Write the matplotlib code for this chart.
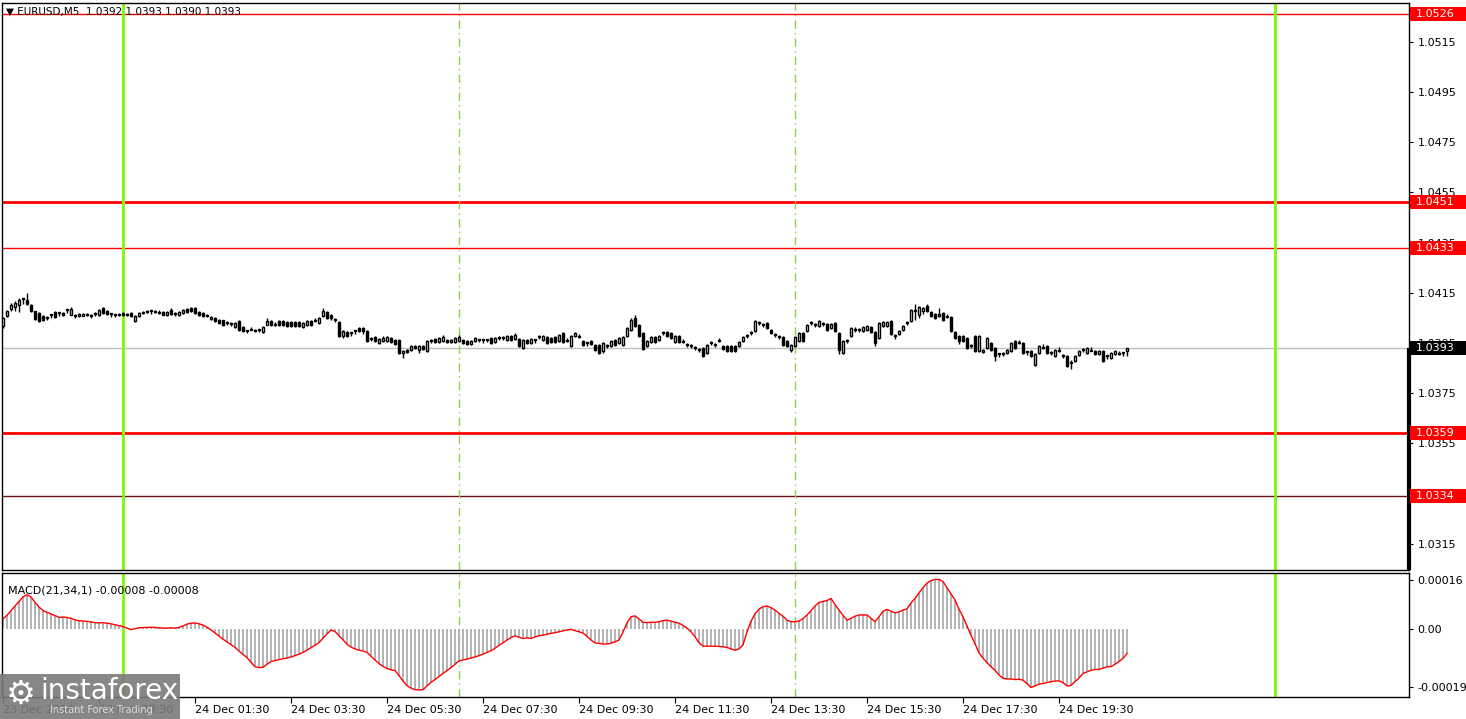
import matplotlib
matplotlib.use('Agg')
import matplotlib.pyplot as plt
import matplotlib.transforms as mtransforms
from matplotlib.patches import Rectangle
import numpy as np

# EURUSD M5, 23 Dec 21:30 -> 24 Dec 20:55, prices in pips relative to BASE
BASE = 1.0393

opens = [
    8.6, 12.6, 15.7, 16.2, 17.3, 19.5, 19.3, 17.3, 14.6, 13.9,
    12.6, 12.0, 13.0, 14.3, 13.9, 14.0, 15.3, 13.3, 12.6, 12.6,
    12.9, 13.5, 12.6, 13.5, 13.3, 15.9, 14.9, 13.5, 13.0, 13.3,
    13.9, 13.5, 13.9, 10.6, 12.6, 13.9, 14.8, 14.6, 14.9, 13.9,
    14.3, 13.0, 15.3, 13.5, 13.0, 13.9, 15.7, 15.9, 15.9, 14.3,
    13.9, 12.6, 11.6, 12.0, 11.3, 11.0, 10.0, 9.6, 8.2, 10.9,
    8.2, 6.9, 7.3, 7.3, 7.3, 6.4, 9.3, 10.6, 9.0, 10.6,
    10.6, 10.2, 10.2, 10.2, 10.2, 8.4, 9.3, 10.6, 10.6, 10.0,
    12.6, 14.2, 13.3, 11.0, 10.2, 4.6, 6.4, 6.0, 6.6, 8.0,
    8.0, 6.6, 3.6, 4.4, 2.0, 2.7, 2.7, 4.0, 3.3, 3.0,
    -2.0, -0.7, -0.9, 0.9, -0.7, 0.9, -1.3, 2.7, 3.6, 2.3,
    2.7, 3.3, 2.3, 2.3, 2.7, 3.0, 2.7, 1.7, 2.7, 3.3,
    3.0, 3.3, 4.0, 2.3, 4.0, 4.0, 3.0, 4.6, 3.6, 3.6,
    0.0, 3.3, 2.0, 3.0, 4.4, 3.0, 4.4, 4.0, 4.4, 2.7,
    6.0, 2.7, 0.7, 4.6, 4.4, 2.7, 2.0, 2.7, 1.3, 1.3,
    -1.3, 0.7, 0.9, 3.0, 2.0, 1.3, 4.6, 7.3, 12.0, 9.3,
    6.0, 0.7, 2.3, 4.4, 3.3, 6.0, 6.2, 6.0, 2.3, 4.9,
    2.3, 1.3, 0.7, 0.0, -0.7, 0.0, -2.0, 2.0, 1.3, 2.7,
    0.9, 0.7, 0.9, 0.7, 0.9, 2.7, 4.6, 6.0, 6.6, 10.0,
    9.3, 10.0, 7.3, 5.3, 4.4, 4.4, 2.7, -0.7, 0.7, 2.7,
    6.0, 6.6, 10.0, 9.3, 8.6, 9.6, 9.6, 8.0, 10.0, 6.0,
    -2.0, 2.7, 4.6, 7.0, 7.3, 6.9, 7.3, 8.2, 6.4, 4.0,
    8.6, 8.6, 10.6, 4.6, 5.6, 7.3, 10.0, 10.6, 14.6, 13.0,
    14.6, 16.6, 14.4, 13.5, 12.6, 13.9, 12.2, 12.2, 6.4, 4.6,
    4.6, 4.0, 0.7, 4.6, -1.0, -1.6, 0.0, 2.0, 0.0, -2.4,
    -2.4, -2.0, -1.3, 2.7, 2.0, 2.0, -1.6, -1.3, -6.6, -2.0,
    0.0, 0.7, -2.0, -3.3, -1.3, -3.0, -3.3, -6.0, -5.3, -2.9,
    -0.7, -2.0, -1.0, -1.0, -2.4, -1.3, -3.3, -4.0, -2.4, -2.4,
    -2.0, -1.0,
]

closes = [
    12.0, 14.6, 17.3, 18.0, 19.3, 19.5, 17.7, 14.6, 11.7, 10.6,
    11.0, 12.0, 13.0, 12.2, 13.9, 13.3, 15.3, 15.7, 12.6, 13.5,
    13.6, 13.1, 12.6, 13.5, 15.3, 13.9, 13.5, 13.5, 13.0, 13.3,
    13.0, 13.0, 12.6, 12.6, 13.9, 14.3, 14.4, 14.6, 14.4, 13.9,
    13.3, 14.3, 13.5, 13.5, 14.3, 15.3, 14.3, 14.6, 13.9, 13.0,
    12.6, 12.6, 12.4, 10.6, 10.0, 9.3, 10.0, 9.6, 10.0, 7.3,
    6.6, 6.9, 7.3, 6.6, 7.3, 8.2, 10.9, 9.3, 9.0, 9.0,
    9.0, 8.9, 8.9, 8.9, 8.6, 10.0, 10.6, 9.3, 10.6, 12.0,
    14.6, 12.0, 12.0, 11.0, 4.6, 6.6, 4.9, 6.0, 6.6, 6.6,
    6.6, 2.7, 3.6, 2.7, 3.6, 4.0, 4.4, 2.3, 1.7, -2.0,
    -1.3, -1.7, 0.7, 0.0, 0.7, -0.4, 2.7, 2.7, 2.3, 4.0,
    4.4, 2.3, 3.3, 4.0, 4.4, 2.0, 1.7, 2.7, 4.0, 3.3,
    3.0, 3.3, 2.0, 4.0, 4.0, 4.0, 4.6, 3.3, 5.3, 0.7,
    3.0, 2.0, 3.6, 3.0, 4.4, 4.6, 2.0, 2.3, 2.3, 5.3,
    2.3, 2.7, 4.9, 6.0, 4.4, 1.3, 2.0, 1.7, -0.7, -2.0,
    2.0, 0.7, 2.7, 1.3, 4.0, 4.4, 8.0, 11.3, 8.6, 4.6,
    -0.4, 2.7, 4.4, 2.3, 4.9, 6.0, 4.6, 4.0, 4.6, 2.3,
    2.3, 1.3, 0.7, 0.0, -0.7, -3.0, 1.3, 2.0, 1.3, 2.7,
    -0.4, -1.3, -1.3, -1.3, 2.3, 4.4, 4.6, 6.0, 10.6, 10.0,
    9.3, 8.0, 6.0, 5.3, 4.4, 1.3, 0.7, 1.3, 4.4, 6.0,
    2.7, 9.3, 10.0, 9.3, 10.6, 9.6, 7.0, 9.6, 6.6, -0.7,
    2.7, 2.7, 8.0, 7.0, 7.3, 8.2, 8.6, 6.4, 2.0, 10.0,
    10.4, 10.4, 5.6, 4.6, 6.9, 8.6, 10.0, 15.3, 14.6, 16.2,
    15.9, 14.9, 12.6, 12.0, 13.5, 11.3, 12.2, 6.6, 4.0, 2.7,
    2.7, 0.0, 0.7, -1.3, 4.6, -0.7, 4.0, -0.7, -3.3, -2.4,
    -2.4, -0.7, 2.0, 0.0, 2.0, -2.0, -1.6, -3.3, -2.4, 0.7,
    0.0, -2.0, -2.0, -0.7, -1.3, -3.0, -7.3, -6.0, -3.3, -1.0,
    -0.7, 0.0, -1.0, -2.4, -1.3, -5.0, -3.3, -2.0, -1.3, -2.4,
    -2.0, 0.0,
]

highs = [
    12.4, 15.0, 18.0, 18.6, 20.0, 19.9, 21.9, 17.7, 14.9, 14.3,
    13.0, 12.8, 13.4, 14.9, 14.2, 14.4, 15.6, 16.2, 13.4, 13.9,
    14.0, 13.9, 13.4, 14.2, 15.7, 16.3, 15.3, 13.9, 13.6, 13.9,
    14.2, 13.9, 14.2, 13.0, 14.3, 14.6, 15.1, 15.0, 15.2, 15.0,
    14.6, 14.6, 15.9, 14.2, 14.6, 15.7, 16.1, 16.3, 16.2, 14.6,
    14.2, 13.6, 12.8, 12.4, 11.6, 11.3, 10.8, 10.4, 10.4, 11.2,
    8.6, 7.3, 8.4, 7.7, 7.7, 8.6, 12.0, 11.0, 10.2, 11.0,
    11.0, 10.6, 10.6, 10.6, 10.6, 10.4, 11.0, 11.3, 12.0, 12.4,
    15.9, 14.6, 13.6, 11.8, 10.6, 7.0, 6.8, 6.4, 7.0, 8.4,
    8.4, 7.0, 4.4, 4.8, 4.0, 4.6, 4.8, 4.4, 3.7, 3.4,
    -0.9, -0.3, 1.1, 1.3, 1.1, 1.3, 3.1, 3.5, 4.0, 4.4,
    5.3, 3.7, 3.7, 4.4, 5.0, 3.4, 3.1, 3.1, 4.4, 3.7,
    3.4, 3.7, 4.4, 4.4, 4.8, 4.8, 5.0, 5.0, 6.0, 4.0,
    3.4, 3.7, 4.0, 3.4, 5.2, 5.0, 4.8, 4.4, 4.8, 5.7,
    6.4, 3.9, 5.3, 6.4, 5.6, 3.1, 2.4, 3.1, 1.7, 1.7,
    2.4, 1.5, 3.1, 3.4, 4.4, 4.8, 8.4, 12.0, 13.0, 9.7,
    6.4, 3.1, 4.8, 4.8, 5.3, 6.8, 6.6, 6.4, 5.0, 5.3,
    3.5, 2.1, 1.5, 0.8, 0.1, 0.4, 1.7, 2.8, 2.1, 3.9,
    1.3, 1.1, 1.3, 1.1, 2.7, 4.8, 5.4, 6.8, 11.0, 10.8,
    10.1, 10.4, 7.7, 6.1, 5.2, 4.8, 3.1, 1.7, 4.8, 6.4,
    6.4, 9.7, 10.8, 10.1, 11.0, 10.4, 10.0, 10.0, 10.4, 6.4,
    3.1, 3.5, 8.4, 8.4, 8.1, 8.6, 9.0, 8.6, 6.8, 10.4,
    10.8, 10.8, 11.0, 5.4, 7.3, 9.0, 10.8, 15.7, 17.5, 16.6,
    16.3, 17.5, 14.8, 13.9, 16.0, 14.3, 13.4, 12.6, 6.8, 5.0,
    5.0, 4.4, 1.5, 5.0, 5.0, -0.3, 4.4, 2.4, 0.4, -2.0,
    -1.6, -0.3, 2.4, 3.1, 3.2, 2.4, -1.2, -0.9, -2.0, 1.1,
    1.6, 1.1, -1.2, -0.3, 0.3, -2.2, -2.9, -4.8, -2.9, -0.6,
    0.1, 0.4, 0.4, -0.6, -0.9, -0.9, -2.9, -1.6, -0.9, -1.2,
    -1.6, 0.0,
]

lows = [
    8.0, 12.2, 14.6, 14.6, 14.3, 17.7, 17.3, 14.2, 11.3, 10.2,
    10.6, 11.2, 12.0, 11.8, 12.8, 12.9, 14.0, 13.0, 11.8, 12.2,
    12.6, 12.8, 11.9, 12.8, 12.9, 13.5, 13.1, 12.4, 12.4, 12.6,
    12.7, 12.6, 12.2, 10.2, 12.3, 13.6, 14.1, 13.6, 14.1, 13.6,
    13.0, 12.7, 13.2, 12.8, 12.6, 13.5, 14.0, 14.2, 13.5, 12.6,
    12.2, 12.3, 11.2, 10.2, 9.6, 8.9, 9.2, 8.8, 7.8, 6.9,
    6.2, 5.8, 7.0, 6.3, 6.2, 6.0, 9.0, 8.9, 8.7, 8.7,
    8.7, 8.5, 8.5, 8.5, 8.2, 8.0, 8.9, 8.9, 10.2, 9.6,
    12.2, 11.6, 11.0, 10.2, 4.2, 4.0, 4.5, 4.9, 5.6, 6.2,
    5.6, 2.3, 2.8, 2.3, 1.6, 2.3, 2.3, 1.9, 1.3, -2.4,
    -4.0, -2.1, -1.3, -0.4, -2.0, -0.8, -1.7, 1.9, 1.9, 1.9,
    2.3, 1.9, 1.9, 1.9, 2.3, 1.6, 1.3, 1.3, 2.3, 2.2,
    1.9, 2.2, 1.6, 1.9, 3.2, 3.2, 2.6, 2.9, 3.2, 0.3,
    -0.4, 1.6, 1.6, 1.9, 3.6, 2.6, 1.6, 1.9, 1.9, 2.3,
    1.9, 2.4, 0.3, 4.2, 4.1, 0.9, 0.9, 1.3, -1.1, -2.4,
    -2.0, -0.1, 0.5, 0.9, 1.6, 0.9, 4.2, 6.9, 8.2, 4.2,
    -0.8, 0.3, 1.9, 1.9, 2.9, 5.2, 4.2, 3.6, 1.9, 1.9,
    2.0, 0.5, -0.1, -0.8, -1.5, -3.4, -2.4, 1.2, 0.5, 2.4,
    -0.8, -1.7, -1.7, -1.7, 0.5, 2.3, 3.8, 5.2, 6.2, 9.2,
    8.5, 7.6, 5.6, 4.5, 3.6, 0.9, 0.3, -1.7, 0.3, 2.3,
    2.3, 6.2, 9.2, 8.5, 8.2, 8.8, 6.6, 7.6, 6.2, -2.4,
    -2.4, 1.9, 4.2, 6.2, 6.5, 6.5, 6.9, 6.0, 1.0, 3.6,
    8.2, 8.2, 5.2, 3.4, 5.2, 6.9, 9.2, 10.2, 11.0, 12.0,
    13.5, 14.5, 12.2, 11.6, 12.2, 10.9, 11.9, 6.2, 3.6, 1.5,
    2.3, -0.4, -0.1, -1.7, -1.4, -2.0, -0.4, -1.1, -5.3, -3.4,
    -3.2, -2.4, -1.7, -0.4, 1.7, -2.4, -2.7, -3.7, -7.0, -2.4,
    -0.3, -2.4, -2.8, -3.7, -1.6, -3.8, -7.7, -8.4, -5.7, -3.3,
    -1.5, -2.4, -1.3, -2.8, -2.8, -5.4, -4.4, -4.4, -2.8, -2.7,
    -3.1, -3.0,
]

# MACD(21,34,1) per bar, in units of 0.00001
macd = [
    3.3, 4.5, 6.0, 7.5, 9.0, 10.5, 11.2, 10.5, 8.7, 7.2,
    6.0, 5.5, 4.9, 4.4, 3.8, 3.9, 3.8, 3.5, 3.0, 2.7,
    2.6, 2.5, 2.3, 2.1, 2.0, 2.1, 1.9, 1.7, 1.4, 1.1,
    0.8, 0.3, -0.2, 0.1, 0.4, 0.5, 0.5, 0.6, 0.5, 0.4,
    0.3, 0.3, 0.4, 0.3, 0.5, 1.0, 1.6, 1.9, 2.0, 1.7,
    1.3, 0.6, -0.3, -1.3, -2.3, -3.3, -4.2, -5.1, -6.0, -7.2,
    -8.3, -9.3, -10.9, -12.3, -12.6, -12.5, -11.5, -10.6, -10.3, -10.0,
    -9.7, -9.5, -9.1, -8.7, -8.2, -7.6, -6.9, -6.1, -5.3, -4.4,
    -3.0, -1.6, -0.3, -0.8, -2.2, -3.5, -5.0, -5.9, -6.5, -6.9,
    -7.2, -7.6, -8.9, -10.1, -11.3, -12.2, -12.9, -13.3, -13.6, -15.2,
    -17.0, -18.5, -19.3, -19.8, -19.9, -19.8, -18.6, -17.4, -16.5, -15.5,
    -14.5, -13.6, -12.6, -11.5, -10.4, -10.1, -9.8, -9.5, -9.1, -8.7,
    -8.2, -7.6, -7.1, -6.3, -5.3, -4.5, -3.6, -2.8, -2.2, -2.7,
    -3.1, -2.9, -3.1, -2.6, -2.2, -2.0, -1.7, -1.4, -1.2, -0.9,
    -0.6, -0.3, -0.1, -0.5, -0.9, -1.3, -2.4, -3.6, -4.5, -4.7,
    -4.9, -4.9, -4.6, -4.2, -3.6, -1.0, 2.0, 4.0, 4.3, 3.3,
    2.2, 2.1, 2.2, 2.2, 2.4, 2.7, 2.9, 2.6, 2.2, 1.9,
    1.2, 0.3, -0.9, -2.5, -4.5, -5.6, -5.6, -5.6, -5.6, -5.7,
    -5.8, -6.0, -6.5, -6.9, -6.5, -5.2, -0.9, 2.5, 5.0, 6.5,
    7.3, 7.5, 7.0, 6.2, 5.1, 4.2, 2.9, 2.4, 2.4, 2.6,
    3.4, 4.6, 6.0, 7.5, 8.7, 9.0, 9.3, 10.0, 8.0, 6.2,
    4.5, 2.9, 3.5, 4.2, 4.6, 4.6, 4.6, 3.5, 2.4, 4.0,
    5.8, 6.4, 5.8, 5.3, 5.6, 6.2, 6.6, 8.5, 10.0, 11.8,
    13.5, 15.0, 15.8, 16.2, 16.2, 15.5, 13.5, 11.5, 9.5, 6.5,
    4.0, 1.0, -2.0, -4.8, -7.8, -9.5, -11.0, -12.3, -13.5, -15.0,
    -16.1, -16.3, -16.3, -16.5, -16.4, -16.7, -17.8, -19.1, -18.6, -18.0,
    -17.8, -17.5, -17.2, -17.0, -16.9, -17.5, -18.6, -18.4, -17.2, -16.0,
    -14.5, -14.0, -13.5, -13.2, -13.2, -12.8, -12.3, -12.3, -11.5, -10.6,
    -9.6, -8.0,
]

x_labels = ['23 Dec 2024', '23 Dec 23:30', '24 Dec 01:30', '24 Dec 03:30', '24 Dec 05:30',
            '24 Dec 07:30', '24 Dec 09:30', '24 Dec 11:30', '24 Dec 13:30', '24 Dec 15:30',
            '24 Dec 17:30', '24 Dec 19:30']
x_label_bars = [0, 24, 48, 72, 96, 120, 144, 168, 192, 216, 240, 264]
price_ticks = [1.0315, 1.0335, 1.0355, 1.0375, 1.0395, 1.0415, 1.0435, 1.0455, 1.0475, 1.0495, 1.0515]
levels = [1.0526, 1.0451, 1.0433, 1.0359, 1.0334]
level_widths = [1.0, 2.0, 1.0, 2.0, 1.0]
level_colors = ['red', 'red', 'red', 'red', '#6b1010']
bid = 1.0393
day_lines = [30, 318]      # 24 Dec 00:00, 25 Dec 00:00
dash_lines = [114, 198]    # 24 Dec 07:00, 24 Dec 14:00
macd_ticks = [0.00016, 0.0, -0.00019]
macd_tick_labels = ['0.00016', '0.00', '-0.00019']

W, H = 1466, 719
fig = plt.figure(figsize=(W / 100, H / 100), dpi=100)
fig.patch.set_facecolor('white')


def box(l, t, r, b):
    return [l / W, 1 - b / H, (r - l) / W, (b - t) / H]


ax = fig.add_axes(box(2, 3, 1409, 570))
ax2 = fig.add_axes(box(2, 573, 1409, 697))

n = len(closes)
k = np.arange(n)
o = BASE + np.array(opens) / 1e4
c = BASE + np.array(closes) / 1e4
hi = BASE + np.array(highs) / 1e4
lo = BASE + np.array(lows) / 1e4

xlim = (-0.25, 351.5)
for a in (ax, ax2):
    a.set_xlim(*xlim)
    for s in a.spines.values():
        s.set_color('black')
        s.set_linewidth(1)

ax.set_ylim(1.03046, 1.05304)
ax2.set_ylim(-0.000222, 0.000183)

# reference lines
ax.axhline(bid, color='#c0c0c0', lw=1, zorder=1)
for lv, lw, col in zip(levels, level_widths, level_colors):
    ax.axhline(lv, color=col, lw=lw, zorder=1)
for a in (ax, ax2):
    for d in day_lines:
        a.axvline(d, color='#7cfc00', lw=2, zorder=1)
    for d in dash_lines:
        a.axvline(d, color='#8fd14f', lw=1, ls=(0, (6, 3, 1, 3)), zorder=1)

# candles
ax.vlines(k, lo, hi, color='black', lw=1, zorder=2)
bottom = np.minimum(o, c)
height = np.maximum(np.abs(c - o), 0.00004)
face = np.where(c > o, 'white', 'black')
ax.bar(k, height, bottom=bottom, width=0.7, color=face, edgecolor='black',
       linewidth=1.0, zorder=3)

# MACD
mv = np.array(macd) / 1e5
ax2.bar(k, mv, width=0.45, color='#b4b4b4', zorder=2)
ax2.plot(k, mv, color='red', lw=1, zorder=3)

# price axis on the right
ax.yaxis.tick_right()
ax.set_yticks(price_ticks)
ax.set_yticklabels([f'{t:.4f}' for t in price_ticks])
ax.tick_params(axis='y', length=3, pad=3, labelsize=8)
ax.tick_params(axis='x', bottom=False, labelbottom=False)

trans = mtransforms.blended_transform_factory(ax.transAxes, ax.transData)
box_w = 56 / 1407
box_h = 14 / 25113
for lv in levels:
    ax.add_patch(Rectangle((1.0005, lv - box_h / 2), box_w, box_h, transform=trans,
                           facecolor='red', edgecolor='none', clip_on=False, zorder=10))
    ax.text(1.005, lv, f'{lv:.4f}', transform=trans, color='white', fontsize=8,
            va='center', ha='left', clip_on=False, zorder=11)
ax.add_patch(Rectangle((1.0005, bid - box_h / 2), box_w, box_h, transform=trans,
                       facecolor='black', edgecolor='none', clip_on=False, zorder=10))
ax.text(1.005, bid, f'{bid:.4f}', transform=trans, color='white', fontsize=8,
        va='center', ha='left', clip_on=False, zorder=11)
ax.plot([1.0, 1.0], [bid, 1.03046], transform=trans, color='black', lw=3,
        clip_on=False, zorder=9, solid_capstyle='butt')

ax.text(0.003, 0.985, '\u25bc EURUSD,M5  1.0392 1.0393 1.0390 1.0393', transform=ax.transAxes,
        fontsize=7.5, va='center', ha='left', zorder=12)

ax2.yaxis.tick_right()
ax2.set_yticks(macd_ticks)
ax2.set_yticklabels(macd_tick_labels)
ax2.tick_params(axis='y', length=3, pad=3, labelsize=8)
ax2.set_xticks(x_label_bars)
ax2.set_xticklabels(x_labels, ha='left')
ax2.tick_params(axis='x', length=4, pad=2, labelsize=8)
ax2.text(0.004, 0.86, 'MACD(21,34,1) -0.00008 -0.00008', transform=ax2.transAxes,
         fontsize=8, va='center', ha='left', zorder=12)

# watermark
fig.add_artist(Rectangle((0, 0), 180 / W, 45 / H, transform=fig.transFigure,
                         facecolor='#7a7a7a', edgecolor='none', alpha=0.9, zorder=20))
fig.text(6 / W, 1 - 694 / H, '\u2699', color='white', fontsize=24, va='center',
         ha='left', zorder=21)
fig.text(40 / W, 1 - 691 / H, 'instaforex', color='white', fontsize=20, va='center',
         ha='left', zorder=21)
fig.text(50 / W, 1 - 710 / H, 'Instant Forex Trading', color='#dddddd', fontsize=7,
         va='center', ha='left', zorder=21)

plt.savefig('out.png', dpi=100)
